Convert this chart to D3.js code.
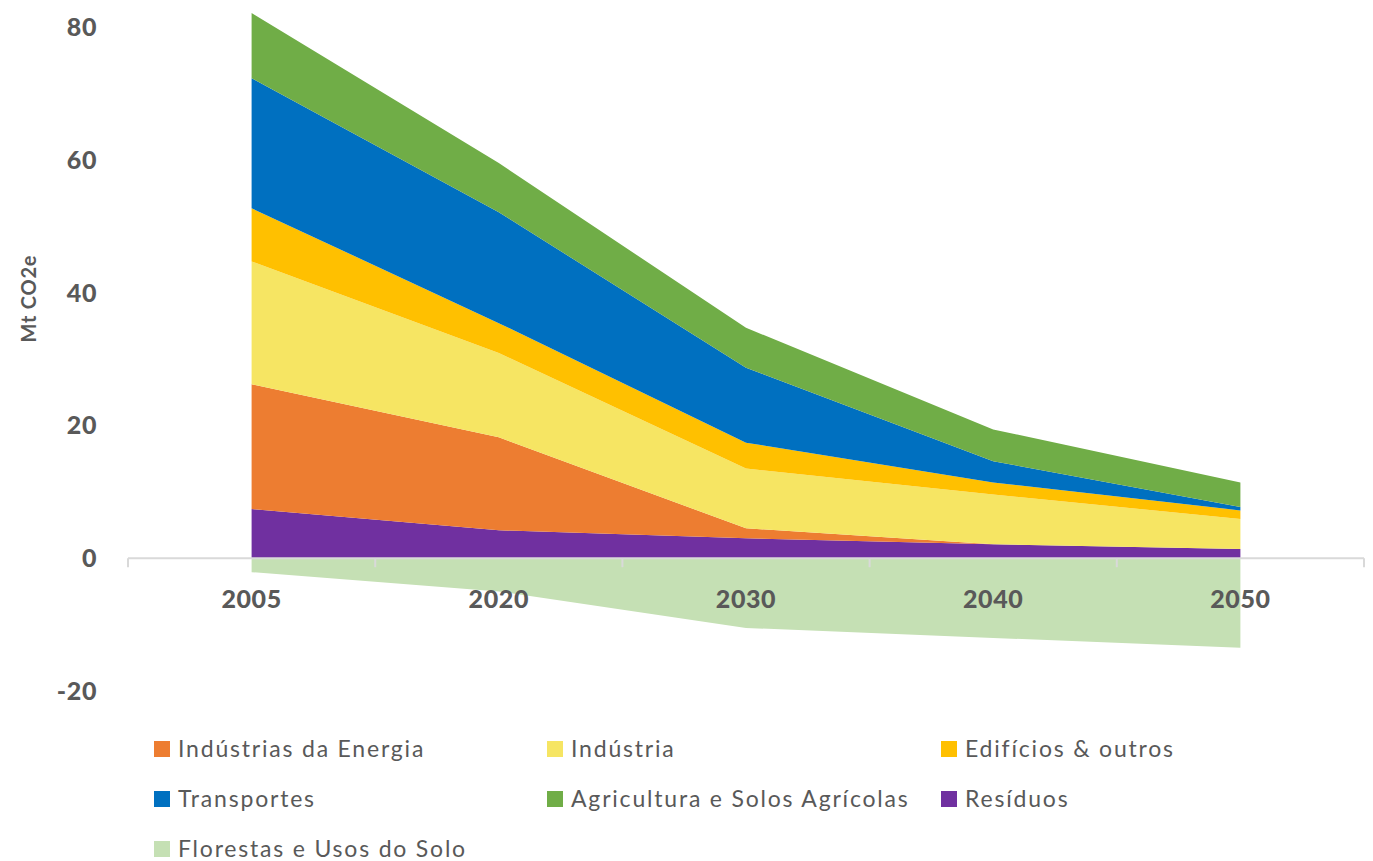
<!DOCTYPE html>
<html>
<head>
<meta charset="utf-8">
<script src="https://cdn.jsdelivr.net/npm/d3@7"></script>
<style>
  body { margin: 0; background: #fff; }
  svg { font-family: Lato, "Open Sans", sans-serif; }
</style>
</head>
<body>
<svg width="1373" height="861"></svg>
<script>
// categories and series (Mt CO2e)
var years = ["2005", "2020", "2030", "2040", "2050"];
var residuos     = [7.4, 4.2, 3.0, 2.1, 1.4];
var energia      = [18.8, 14.0, 1.5, 0.0, 0.0];
var industria    = [18.5, 12.7, 9.0, 7.5, 4.5];
var edificios    = [8.0, 4.5, 3.9, 1.8, 1.3];
var transportes  = [19.6, 16.7, 11.3, 3.2, 0.5];
var agricultura  = [9.8, 7.4, 6.0, 4.8, 3.7];
var florestas    = [-2.1, -5.0, -10.5, -12.0, -13.5];
var yTicks = [-20, 0, 20, 40, 60, 80];

var series = [
  {key: "Resíduos", values: residuos, color: "#7030A0"},
  {key: "Indústrias da Energia", values: energia, color: "#ED7D31"},
  {key: "Indústria", values: industria, color: "#F6E563"},
  {key: "Edifícios & outros", values: edificios, color: "#FFC000"},
  {key: "Transportes", values: transportes, color: "#0070C0"},
  {key: "Agricultura e Solos Agrícolas", values: agricultura, color: "#70AD47"},
  {key: "Florestas e Usos do Solo", values: florestas, color: "#C5E0B4"}
];
var legendOrder = ["Indústrias da Energia", "Indústria", "Edifícios & outros",
  "Transportes", "Agricultura e Solos Agrícolas", "Resíduos", "Florestas e Usos do Solo"];

var svg = d3.select("svg");

// build table for d3.stack
var table = years.map(function(y, i) {
  var row = {year: y};
  series.forEach(function(s) { row[s.key] = s.values[i]; });
  return row;
});
var colorOf = {};
series.forEach(function(s) { colorOf[s.key] = s.color; });

// emissions stacked upward, the sink (florestas) on its own below zero
var posKeys = series.slice(0, 6).map(function(s) { return s.key; });
var stacked = d3.stack().keys(posKeys)(table)
  .concat(d3.stack().keys(["Florestas e Usos do Solo"])(table));

var x = d3.scaleBand().domain(years).range([128, 1364]);
var y = d3.scaleLinear().domain([-20, 80]).range([691, 27]);
var xc = function(d) { return x(d.data.year) + x.bandwidth() / 2; };

var area = d3.area()
  .x(xc)
  .y0(function(d) { return y(d[0]); })
  .y1(function(d) { return y(d[1]); });

svg.append("g")
  .selectAll("path")
  .data(stacked)
  .enter()
  .append("path")
    .attr("d", area)
    .attr("fill", function(d) { return colorOf[d.key]; });

// x axis line at zero with ticks between categories
var axisG = svg.append("g").attr("transform", "translate(0," + y(0) + ")");
axisG.append("line")
  .attr("x1", 128).attr("x2", 1364)
  .attr("stroke", "#D9D9D9").attr("stroke-width", 2);
axisG.selectAll(".tk")
  .data(d3.range(years.length + 1))
  .enter()
  .append("line")
    .attr("x1", function(i) { return 128 + i * x.step(); })
    .attr("x2", function(i) { return 128 + i * x.step(); })
    .attr("y1", 0).attr("y2", 9)
    .attr("stroke", "#D9D9D9").attr("stroke-width", 2);

// x labels
svg.append("g")
  .selectAll("text")
  .data(years)
  .enter()
  .append("text")
    .attr("x", function(d) { return x(d) + x.bandwidth() / 2; })
    .attr("y", 608)
    .attr("text-anchor", "middle")
    .attr("font-size", 25)
    .attr("font-weight", "900")
    .attr("letter-spacing", 0.6)
    .attr("fill", "#595959")
    .text(function(d) { return d; });

// y labels
svg.append("g")
  .selectAll("text")
  .data(yTicks)
  .enter()
  .append("text")
    .attr("x", 97)
    .attr("y", function(d) { return y(d) + 9; })
    .attr("text-anchor", "end")
    .attr("font-size", 25)
    .attr("font-weight", "900")
    .attr("letter-spacing", 0.6)
    .attr("fill", "#595959")
    .text(function(d) { return d; });

svg.append("text")
  .attr("transform", "translate(36," + (y(40) + 6) + ") rotate(-90)")
  .attr("text-anchor", "middle")
  .attr("font-size", 20)
  .attr("font-weight", "bold")
  .attr("letter-spacing", 0.8)
  .attr("fill", "#595959")
  .text("Mt CO2e");

// legend
var legend = svg.append("g")
  .selectAll("g")
  .data(legendOrder)
  .enter()
  .append("g")
    .attr("transform", function(d, i) {
      return "translate(" + [154, 547, 941][i % 3] + "," + (741 + Math.floor(i / 3) * 50) + ")";
    });
legend.append("rect")
  .attr("width", 16).attr("height", 16)
  .attr("fill", function(d) { return colorOf[d]; });
legend.append("text")
  .attr("x", 24).attr("y", 16)
  .attr("font-size", 23)
  .attr("fill", "#595959")
  .attr("letter-spacing", 1.8)
  .text(function(d) { return d; });
</script>
</body>
</html>
